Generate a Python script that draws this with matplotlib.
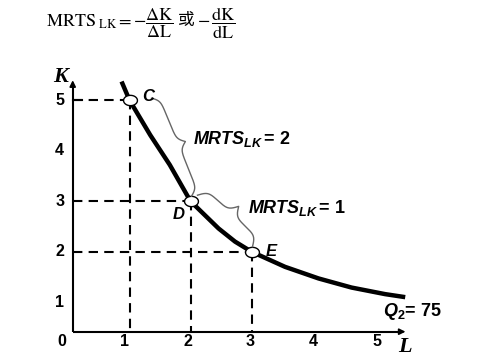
import numpy as np
import matplotlib
matplotlib.use('Agg')
import matplotlib.pyplot as plt
from matplotlib.path import Path

plt.rcParams['font.family'] = ['Liberation Sans', 'DejaVu Sans']
plt.rcParams['mathtext.fontset'] = 'custom'
plt.rcParams['mathtext.it'] = 'Liberation Sans:italic:bold'
plt.rcParams['mathtext.rm'] = 'Liberation Sans:bold'
plt.rcParams['mathtext.bf'] = 'Liberation Sans:bold'

# isoquant Q2 = 75
curve_L = [0.87, 1.0, 1.34, 1.66, 2.0, 2.46, 2.73, 3.0, 3.55, 4.10, 4.64, 5.19, 5.52]
curve_K = [5.37, 5.0, 4.31, 3.72, 3.0, 2.46, 2.20, 2.0, 1.70, 1.47, 1.29, 1.16, 1.10]

# marked points
pt_names = ['C', 'D', 'E']
pt_L = [1, 2, 3]
pt_K = [5, 3, 2]

x_ticks = [1, 2, 3, 4, 5]
y_ticks = [1, 2, 3, 4, 5]
mrts_vals = [2, 1]

W, H = 493, 359
fig = plt.figure(figsize=(W / 100, H / 100), dpi=100)
ax = fig.add_axes([0, 0, 1, 1])
ax.set_axis_off()
# pixel mapping: x_px = 68.5 + 61*L, y_px(top) = 352.7 - 50.5*K
ax.set_xlim(-68.5 / 61, (W - 68.5) / 61)
ax.set_ylim((352.7 - H) / 50.5, 352.7 / 50.5)

x0, y0 = 0.069, 0.416   # where the axes cross
x_end, y_end = 5.57, 5.45

# axes with arrows
ax.plot([x0, x0], [y0, y_end - 0.1], color='k', lw=1.5, solid_capstyle='butt')
ax.plot([x0, x_end - 0.1], [y0, y0], color='k', lw=1.5, solid_capstyle='butt')
ax.annotate('', xy=(x0, y_end), xytext=(x0, y_end - 0.2),
            arrowprops=dict(arrowstyle='-|>', color='k', lw=1.2, mutation_scale=9))
ax.annotate('', xy=(x_end, y0), xytext=(x_end - 0.2, y0),
            arrowprops=dict(arrowstyle='-|>', color='k', lw=1.2, mutation_scale=9))
ax.plot([x0, x0 + 0.15], [5, 5], color='k', lw=1.5)

# dashed guides
for L, K in zip(pt_L, pt_K):
    ax.plot([x0, L], [K, K], color='k', lw=1.5, ls=(0, (4.5, 3)))
    ax.plot([L, L], [K, y0], color='k', lw=1.5, ls=(0, (4.5, 3)))

# isoquant
ax.plot(curve_L, curve_K, color='k', lw=3.2, solid_capstyle='butt')

# open elliptical markers
t = np.linspace(0, 2 * np.pi, 60)
ell = Path(np.column_stack([1.35 * np.cos(t), np.sin(t)]))
ax.plot(pt_L, pt_K, ls='none', marker=ell, markersize=10, mfc='white', mec='k', mew=1.0)

# point labels
lbl_off = {'C': (19, 4), 'D': (-12, -13), 'E': (20, 0)}
for n, L, K in zip(pt_names, pt_L, pt_K):
    ax.annotate(n, (L, K), xytext=lbl_off[n], textcoords='offset pixels',
                ha='center', va='center', fontsize=12, fontweight='bold', style='italic')

# braces
def brace(p1, p2, w, n=300, beta=0.35):
    p1 = np.asarray(p1, float)
    p2 = np.asarray(p2, float)
    d = p2 - p1
    length = np.hypot(*d)
    u = d / length
    nrm = np.array([-u[1], u[0]])  # bulge to the right of a downward path
    s = np.linspace(0, length, n)
    half = s[: n // 2 + 1]
    hb = 1 / (1 + np.exp(-beta * (half - half[0]))) + 1 / (1 + np.exp(-beta * (half - half[-1])))
    y = np.concatenate((hb, hb[-2::-1]))
    y = (y - y.min()) / (y.max() - y.min()) * w
    s = np.linspace(0, length, len(y))
    pts = p1[None, :] + s[:, None] * u[None, :] + y[:, None] * nrm[None, :]
    return pts

fig.canvas.draw()
to_disp = ax.transData.transform
to_data = ax.transData.inverted().transform
pc, pd, pe = [to_disp((L, K)) for L, K in zip(pt_L, pt_K)]
br1 = brace(pc + [22, 2], pd + [1, 5], 15)
br2 = brace(pd + [7, 6], pe + [1, 5], 20)
for br in (br1, br2):
    dd = to_data(br)
    ax.plot(dd[:, 0], dd[:, 1], color='#666666', lw=1.0)

def fx(px):
    return px / W

def fy(py):
    return 1 - py / H

for val, (px, py) in zip(mrts_vals, [(193, 139), (248, 208)]):
    ax.text(fx(px), fy(py), r'$MRTS_{LK}\,$' + '= ' + str(val), transform=ax.transAxes,
            ha='left', va='center', fontsize=13, fontweight='bold')

# tick numbers
for v in y_ticks:
    ax.annotate(str(v), (x0, v), xytext=(-13, 0), textcoords='offset pixels',
                ha='center', va='center', fontsize=11.5, fontweight='bold')
for v in x_ticks:
    ax.annotate(str(v), (v, y0), xytext=(-1 + (v - 3) * 2, -10), textcoords='offset pixels',
                ha='center', va='center', fontsize=11.5, fontweight='bold')
ax.annotate('0', (x0, y0), xytext=(-11, -10), textcoords='offset pixels',
            ha='center', va='center', fontsize=11.5, fontweight='bold')

# axis letters
ax.text(fx(61), fy(77), 'K', transform=ax.transAxes, ha='center', va='center',
        fontsize=16, fontweight='bold', style='italic', family='Liberation Serif')
ax.text(fx(405), fy(347), 'L', transform=ax.transAxes, ha='center', va='center',
        fontsize=16, fontweight='bold', style='italic', family='Liberation Serif')

ax.text(fx(383), fy(311), r'$Q_{\mathrm{2}}$' + '= 75', transform=ax.transAxes,
        ha='left', va='center', fontsize=13, fontweight='bold')

# formula at top
ax.text(fx(46), fy(23), r'$\mathrm{MRTS}_{\mathrm{\ LK}}=-\dfrac{\Delta\mathrm{K}}{\Delta\mathrm{L}}$',
        transform=ax.transAxes, ha='left', va='center', fontsize=13, math_fontfamily='stix')
ax.text(fx(186), fy(21), '或', transform=ax.transAxes, ha='center', va='center',
        fontsize=12, family=['Noto Sans CJK SC', 'DejaVu Sans'])
ax.text(fx(197), fy(23), r'$-\,\dfrac{\mathrm{dK}}{\mathrm{dL}}$',
        transform=ax.transAxes, ha='left', va='center', fontsize=13, math_fontfamily='stix')

fig.savefig('out.png', dpi=100, facecolor='white')
